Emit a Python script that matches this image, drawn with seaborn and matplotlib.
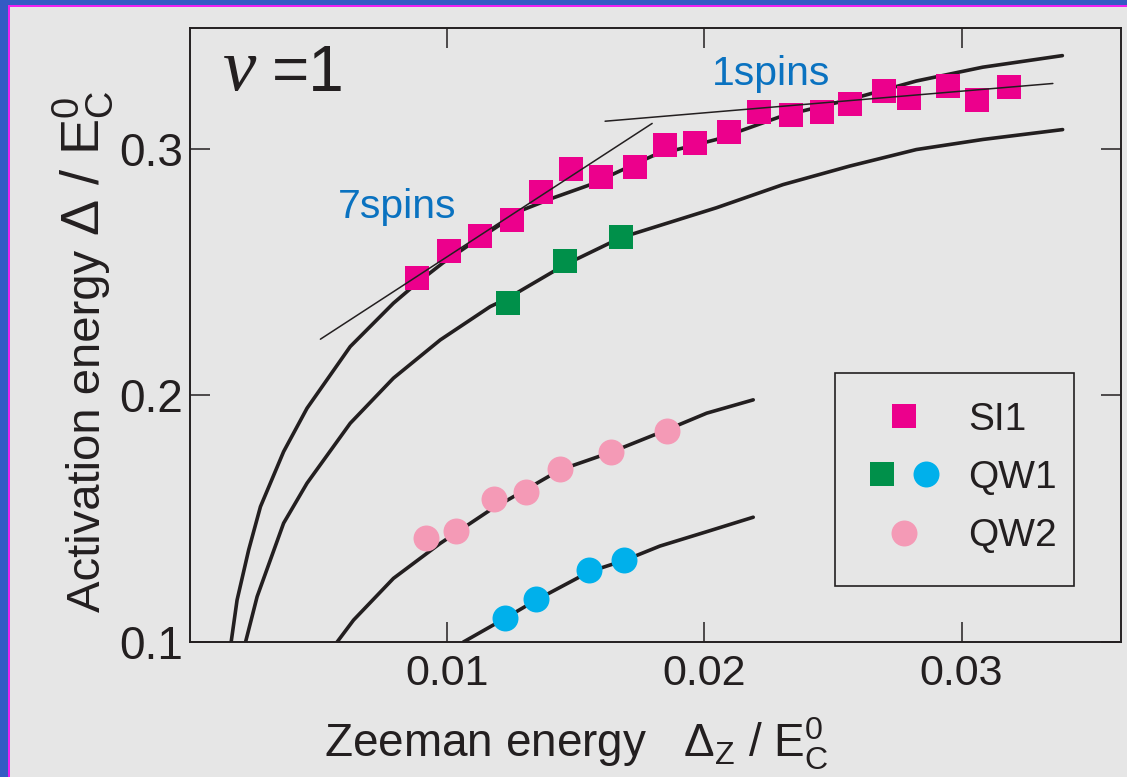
import matplotlib
matplotlib.use("Agg")
import matplotlib.pyplot as plt
import seaborn as sns
from matplotlib.lines import Line2D
from matplotlib.patches import Rectangle
from matplotlib.legend_handler import HandlerTuple

# ---- measured activation energies (Delta / E_C^0) vs Zeeman energy (Delta_Z / E_C^0)
si1_x = [0.00883, 0.01008, 0.01128, 0.01252, 0.01365, 0.01481, 0.01598, 0.01730,
         0.01847, 0.01963, 0.02095, 0.02212, 0.02336, 0.02456, 0.02565, 0.02697,
         0.02794, 0.02946, 0.03062, 0.03186]
si1_y = [0.2477, 0.2586, 0.2647, 0.2712, 0.2826, 0.2919, 0.2886, 0.2927,
         0.3016, 0.3024, 0.3069, 0.3150, 0.3138, 0.3150, 0.3183, 0.3235,
         0.3207, 0.3256, 0.3199, 0.3252]

qw1_sq_x = [0.01237, 0.01458, 0.01676]
qw1_sq_y = [0.2375, 0.2546, 0.2643]

qw1_ci_x = [0.01225, 0.01346, 0.01552, 0.01687]
qw1_ci_y = [0.1097, 0.1174, 0.1292, 0.1333]

qw2_x = [0.00918, 0.01035, 0.01183, 0.01307, 0.01439, 0.01637, 0.01854]
qw2_y = [0.1422, 0.1450, 0.1580, 0.1609, 0.1702, 0.1771, 0.1856]

# ---- theoretical curves
curve_a_x = [0.00160, 0.00183, 0.00228, 0.00274, 0.00364, 0.00455, 0.00623, 0.00791,
             0.00882, 0.00984, 0.01077, 0.01295, 0.01412, 0.01555, 0.01800, 0.02047,
             0.02305, 0.02565, 0.02824, 0.03082, 0.03392]
curve_a_y = [0.1000, 0.1170, 0.1373, 0.1549, 0.1772, 0.1948, 0.2198, 0.2374,
             0.2455, 0.2538, 0.2604, 0.2753, 0.2801, 0.2854, 0.2972, 0.3038,
             0.3134, 0.3200, 0.3275, 0.3331, 0.3378]

curve_b_x = [0.00216, 0.00261, 0.00364, 0.00455, 0.00623, 0.00791, 0.00973, 0.01167,
             0.01237, 0.01458, 0.01676, 0.02047, 0.02306, 0.02565, 0.02824, 0.03083,
             0.03393]
curve_b_y = [0.1000, 0.1184, 0.1482, 0.1644, 0.1887, 0.2070, 0.2225, 0.2360,
             0.2395, 0.2530, 0.2640, 0.2761, 0.2855, 0.2930, 0.2997, 0.3038,
             0.3078]

curve_c_x = [0.00572, 0.00636, 0.00791, 0.00973, 0.01167, 0.01439, 0.01633, 0.01853,
             0.02009, 0.02190]
curve_c_y = [0.1000, 0.1089, 0.1258, 0.1400, 0.1535, 0.1698, 0.1768, 0.1860,
             0.1928, 0.1982]

curve_d_x = [0.01063, 0.01225, 0.01346, 0.01553, 0.01689, 0.01827, 0.02008, 0.02190]
curve_d_y = [0.1000, 0.1096, 0.1170, 0.1285, 0.1331, 0.1389, 0.1447, 0.1506]

# ---- slope guides
fit7_x = [0.00507, 0.01797]
fit7_y = [0.2228, 0.3103]
fit1_x = [0.01614, 0.03355]
fit1_y = [0.3112, 0.3265]

x_ticks = [0.01, 0.02, 0.03]
y_ticks = [0.1, 0.2, 0.3]
series_labels = ["SI1", "QW1", "QW2"]

INK = "#231f20"
MAGENTA = "#ec008c"
GREEN = "#00904a"
CYAN = "#00b0eb"
PINK = "#f49ab6"
BLUE_TXT = "#0a72c0"
BG = "#e6e6e6"

sns.set_theme(style="ticks")
plt.rcParams["font.family"] = ["Liberation Sans", "DejaVu Sans"]
plt.rcParams["mathtext.fontset"] = "custom"
plt.rcParams["mathtext.rm"] = "Liberation Sans"
plt.rcParams["mathtext.it"] = "Liberation Sans:italic"
plt.rcParams["mathtext.bf"] = "Liberation Sans:bold"
plt.rcParams["mathtext.sf"] = "Liberation Sans"

W, H = 1127, 777
fig = plt.figure(figsize=(W / 100, H / 100), dpi=100, facecolor=BG)
ax = fig.add_axes([190 / W, 1 - 642 / H, 931 / W, 614 / H])
ax.set_facecolor(BG)

# slide frame on top and left edges
fig.add_artist(Rectangle((0, 1 - 5 / H), 1, 5 / H, transform=fig.transFigure,
                         color="#345bc4", lw=0, zorder=10))
fig.add_artist(Rectangle((0, 0), 8 / W, 1, transform=fig.transFigure,
                         color="#345bc4", lw=0, zorder=10))
fig.add_artist(Rectangle((8 / W, 0), 1.5 / W, 1 - 5 / H, transform=fig.transFigure,
                         color="#f020f0", lw=0, zorder=10))
fig.add_artist(Rectangle((8 / W, 1 - 6.5 / H), 1, 1.5 / H, transform=fig.transFigure,
                         color="#f020f0", lw=0, zorder=10))

# theory curves
for cx, cy in [(curve_a_x, curve_a_y), (curve_b_x, curve_b_y),
               (curve_c_x, curve_c_y), (curve_d_x, curve_d_y)]:
    sns.lineplot(x=cx, y=cy, sort=False, estimator=None, color=INK,
                 lw=2.6, ax=ax, zorder=2)

# data
sq = 17.3 ** 2
ci = 18.7 ** 2
sns.scatterplot(x=si1_x, y=si1_y, marker="s", s=sq, color=MAGENTA, linewidth=0,
                ax=ax, zorder=3, legend=False)
sns.scatterplot(x=qw1_sq_x, y=qw1_sq_y, marker="s", s=sq, color=GREEN, linewidth=0,
                ax=ax, zorder=3, legend=False)
sns.scatterplot(x=qw1_ci_x, y=qw1_ci_y, marker="o", s=ci, color=CYAN, linewidth=0,
                ax=ax, zorder=3, legend=False)
sns.scatterplot(x=qw2_x, y=qw2_y, marker="o", s=ci, color=PINK, linewidth=0,
                ax=ax, zorder=3, legend=False)

# slope guides
for fx, fy in [(fit7_x, fit7_y), (fit1_x, fit1_y)]:
    sns.lineplot(x=fx, y=fy, sort=False, estimator=None, color=INK,
                 lw=1.1, ax=ax, zorder=4)

ax.set_xlim(0, 0.0362)
ax.set_ylim(0.1, 0.349)
ax.set_xticks(x_ticks)
ax.set_xticklabels([f"{v:.2f}" for v in x_ticks])
ax.set_yticks(y_ticks)
ax.set_yticklabels([f"{v:.1f}" for v in y_ticks])
ax.set_xlabel("")
ax.set_ylabel("")

for sp in ax.spines.values():
    sp.set_visible(True)
    sp.set_color(INK)
    sp.set_linewidth(1.4)
ax.tick_params(direction="in", length=14.5, width=1.1, color=INK,
               top=True, right=True, labelcolor=INK)
ax.tick_params(axis="x", pad=8.5, labelsize=31)
ax.tick_params(axis="y", pad=5, labelsize=33)

# annotations
ax.text(0.0354, 0.899, "ν", transform=ax.transAxes, fontsize=54,
        family=["Liberation Serif", "DejaVu Serif"], style="italic",
        color=INK, ha="left", va="baseline")
ax.text(0.088, 0.897, "=1", transform=ax.transAxes, fontsize=46,
        color=INK, ha="left", va="baseline")
ax.text(0.1586, 0.6906, "7spins", transform=ax.transAxes, fontsize=29.5,
        color=BLUE_TXT, ha="left", va="baseline")
ax.text(0.5604, 0.9077, "1spins", transform=ax.transAxes, fontsize=29.5,
        color=BLUE_TXT, ha="left", va="baseline")

# axis titles
fig.text(324 / W, 1 - 757 / H,
         r"Zeeman energy   $\Delta_{\mathrm{Z}}$ / $\mathrm{E}_{\mathrm{C}}^{0}$",
         fontsize=33, color=INK, ha="left", va="baseline")
fig.text(100 / W, 1 - 612 / H, "Activation energy",
         fontsize=34, color=INK, rotation=90, rotation_mode="anchor",
         ha="left", va="baseline")
fig.text(99 / W, 1 - 236 / H, r"$\Delta$ / $\mathrm{E}_{\mathrm{C}}^{0}$",
         fontsize=39, color=INK, rotation=90, rotation_mode="anchor",
         ha="left", va="baseline")

# legend
h_si1 = Line2D([], [], marker="s", ms=17.3, color=MAGENTA, ls="none", mew=0)
h_qw1a = Line2D([], [], marker="s", ms=17.3, color=GREEN, ls="none", mew=0)
h_qw1b = Line2D([], [], marker="o", ms=18.7, color=CYAN, ls="none", mew=0)
h_qw2 = Line2D([], [], marker="o", ms=18.7, color=PINK, ls="none", mew=0)
leg = ax.legend([h_si1, (h_qw1a, h_qw1b), h_qw2], series_labels,
                handler_map={tuple: HandlerTuple(ndivide=None, pad=0.51)},
                loc="upper left", bbox_to_anchor=(0.7293, 0.391),
                borderaxespad=0, borderpad=0, frameon=False, fontsize=28,
                handlelength=1.8, handletextpad=0.74, labelspacing=0.57)
for t in leg.get_texts():
    t.set_color(INK)
ax.add_patch(Rectangle((0.6928, 0.0912), 0.9495 - 0.6928, 0.4381 - 0.0912,
                       transform=ax.transAxes, fill=False, edgecolor=INK,
                       lw=1.2, zorder=5))

fig.savefig("out.png", dpi=100, facecolor=BG)
